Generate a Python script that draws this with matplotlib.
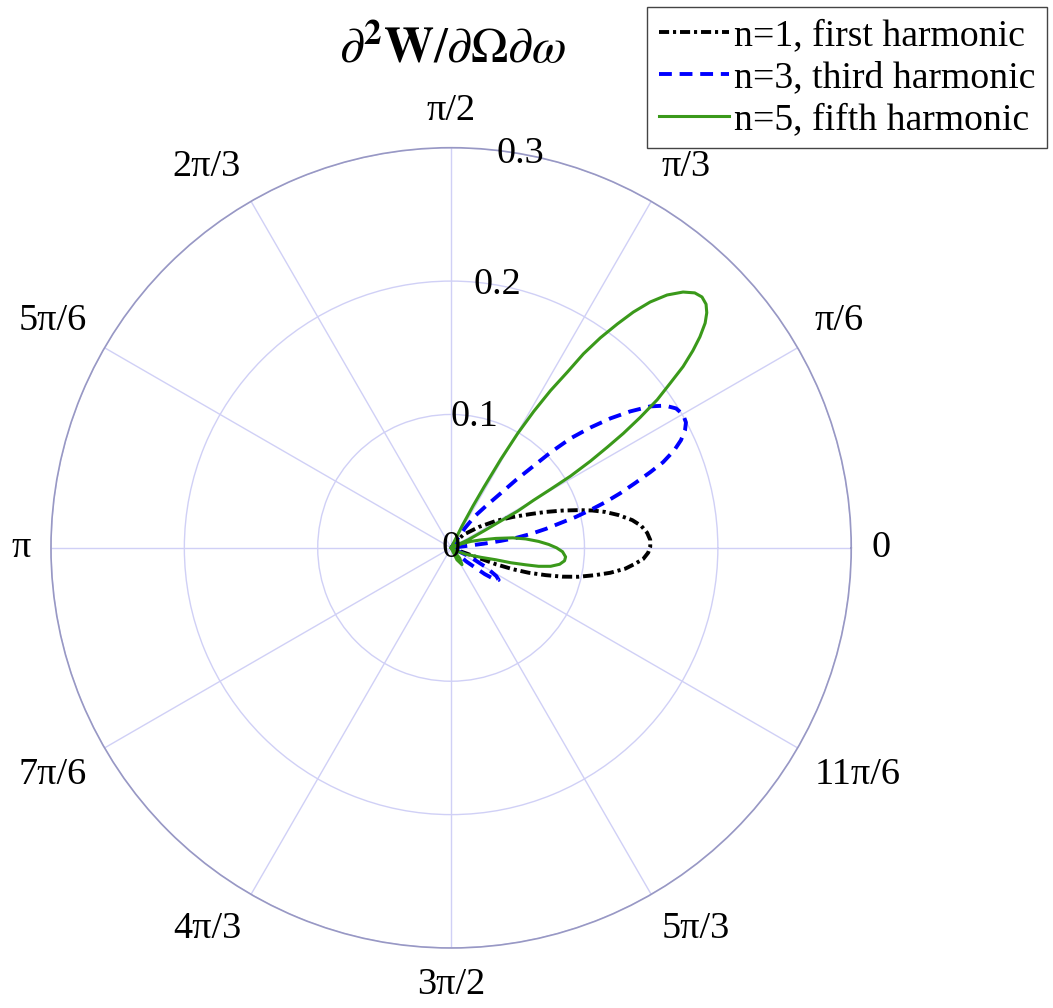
import numpy as np
import matplotlib.pyplot as plt

plt.rcParams['font.family'] = ['Liberation Serif', 'DejaVu Serif']
plt.rcParams['mathtext.fontset'] = 'stix'

# angular distribution of the emitted energy for each harmonic
# angles in degrees, radius in plot units
theta_n1 = [55, 51.3, 47.3, 36.9, 31.0, 26.6, 23.0, 20.8, 18.5, 16.5, 14.8, 13.1,
            11.1, 8.7, 6.6, 4.4, 2.3, 0.3, -1.4, -3.3, -4.9, -6.8, -8.9, -10.7,
            -12.8, -14.5, -16.1, -17.8, -19.1, -20.1, -20.1, -20.1, -21.8, -23]
r_n1 = [0, 0.0048, 0.0132, 0.0261, 0.0392, 0.0517, 0.0649, 0.0758, 0.0881,
        0.0996, 0.1096, 0.1187, 0.1278, 0.1374, 0.1435, 0.1474, 0.1494, 0.1493,
        0.1478, 0.1443, 0.1386, 0.1316, 0.1208, 0.1101, 0.0979, 0.0863, 0.0738,
        0.0611, 0.0490, 0.0358, 0.0239, 0.0119, 0.0040, 0]

theta_n3 = [58, 55.0, 53.1, 50.2, 47.7, 46.3, 45.0, 43.8, 42.5, 40.8, 39.1, 37.3,
            35.4, 33.6, 31.8, 29.9, 28.1, 26.7, 25.1, 23.6, 22.0, 20.8, 19.4,
            17.9, 16.5, 15.2, 13.9, 12.8, 11.3, 9.9, 8.7, 8.0, 7.3, 7.1, 7.1, 6,
            -18, -25, -29, -32, -34, -36, -38, -42, -50]
r_n3 = [0, 0.0182, 0.0299, 0.0408, 0.0555, 0.0702, 0.0844, 0.1035, 0.1215,
        0.1381, 0.1539, 0.1688, 0.1831, 0.1927, 0.1984, 0.2006, 0.1996, 0.1963,
        0.1903, 0.1825, 0.1714, 0.1597, 0.1463, 0.1333, 0.1207, 0.1083, 0.0961,
        0.0842, 0.0723, 0.0606, 0.0491, 0.0377, 0.0263, 0.0150, 0.0060, 0,
        0, 0.015, 0.030, 0.040, 0.043, 0.040, 0.032, 0.015, 0]

theta_n5 = [64, 63.4, 62.4, 61.6, 60.7, 59.8, 58.8, 57.7, 56.5, 55.7, 54.6, 53.4,
            52.3, 51.0, 49.5, 47.8, 46.3, 45.0, 43.7, 42.6, 41.5, 40.3, 39.2,
            38.0, 36.9, 35.7, 34.6, 33.6, 32.8, 31.9, 31.0, 30.5, 30.0, 28.9,
            28.4, 27.3, 25.2, 24,
            21.8, 18.0, 14.9, 11.9, 9.2, 6.8, 4.2, 2.0, 0, -2.0, -4.5, -6.5,
            -8.6, -10.5, -11.9, -12.8, -14.0, -14.9, -17.6, -23.4, -31, -40,
            -50, -57, -64, -72]
r_n5 = [0, 0.0184, 0.0354, 0.0518, 0.0762, 0.0993, 0.1195, 0.1395, 0.1583,
        0.1761, 0.1932, 0.2091, 0.2234, 0.2372, 0.2493, 0.2589, 0.2644, 0.2660,
        0.2644, 0.2604, 0.2543, 0.2446, 0.2339, 0.2207, 0.2052, 0.1903, 0.1722,
        0.1550, 0.1393, 0.1230, 0.1044, 0.0866, 0.0716, 0.0571, 0.0424, 0.0277,
        0.0140, 0,
        0.0080, 0.0157, 0.0232, 0.0343, 0.0469, 0.0564, 0.0658, 0.0732, 0.0791,
        0.0836, 0.0861, 0.0856, 0.0823, 0.0759, 0.0671, 0.0574, 0.0462, 0.0348,
        0.0235, 0.0122, 0.0044, 0, 0.010, 0.015, 0.010, 0]

labels = ['n=1, first harmonic', 'n=3, third harmonic', 'n=5, fifth harmonic']

theta_ticks = np.arange(0, 360, 30)
theta_labels = ['0', 'π/6', 'π/3', 'π/2', '2π/3', '5π/6', 'π',
                '7π/6', '4π/3', '3π/2', '5π/3', '11π/6']
r_ticks = [0, 0.1, 0.2, 0.3]
r_labels = ['0', '0.1', '0.2', '0.3']

fig = plt.figure(figsize=(10.53, 10.08), dpi=100)
ax = fig.add_axes([0.0484, 0.0595, 0.760, 0.794], projection='polar')

ax.plot(np.deg2rad(theta_n1), r_n1, color='black', lw=2.8,
        dashes=(2.6, 1.0, 0.8, 1.0), label=labels[0])
ax.plot(np.deg2rad(theta_n3), r_n3, color='blue', lw=2.8,
        dashes=(3.3, 2.0), label=labels[1])
ax.plot(np.deg2rad(theta_n5), r_n5, color='#3a991a', lw=2.2, label=labels[2])

ax.set_ylim(0, 0.3)
ax.set_yticks(r_ticks[1:])
ax.set_yticklabels([])
ax.set_xticks(np.deg2rad(theta_ticks))
ax.set_xticklabels([])
ax.grid(color='#d0d0f6', lw=1.0)
ax.spines['polar'].set_color('#9898c4')
ax.spines['polar'].set_linewidth(1.2)

# theta labels anchored by their corner nearest the circle
for a, lab in zip(theta_ticks, theta_labels):
    c, s = np.cos(np.deg2rad(a)), np.sin(np.deg2rad(a))
    ha = 'left' if c > 0.01 else ('right' if c < -0.01 else 'center')
    va = 'bottom' if s > 0.01 else ('top' if s < -0.01 else 'center')
    ax.text(np.deg2rad(a), 0.315, lab, ha=ha, va=va, fontsize=27.5,
            clip_on=False)

for rv, lab in zip(r_ticks, r_labels):
    ax.text(np.deg2rad(80), rv, lab, ha='center', va='center', fontsize=27.5)

fig.text(452 / 1053, 1 - 50 / 1008,
         r'$\partial^{\mathbf{2}}\mathbf{W}/\partial\Omega\partial\omega$',
         ha='center', va='center', fontsize=36)

leg = ax.legend(loc='upper right', bbox_to_anchor=(1047 / 1053, 1 - 7 / 1008),
                bbox_transform=fig.transFigure, fontsize=27.2, frameon=True,
                fancybox=False, edgecolor='#444444', framealpha=1,
                borderpad=0.3, handlelength=1.85, handletextpad=0.15,
                labelspacing=0.2, borderaxespad=0)
leg.get_frame().set_linewidth(1.0)

fig.savefig('out.png', dpi=100)
